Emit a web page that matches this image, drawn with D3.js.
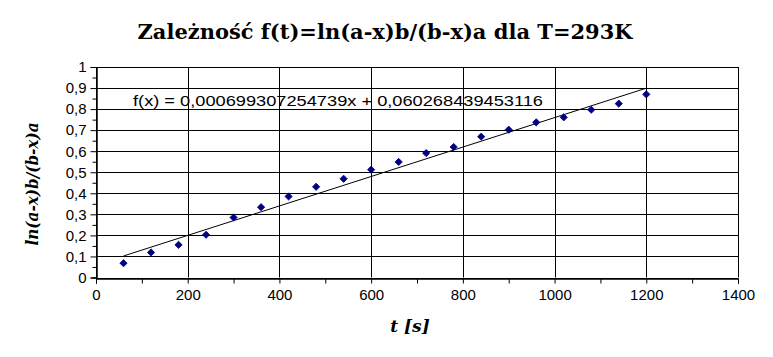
<!DOCTYPE html>
<html><head><meta charset="utf-8">
<script src="https://cdn.jsdelivr.net/npm/d3@7"></script>
<style>body{margin:0;background:#fff}svg{display:block}</style>
</head><body>
<svg id="c" width="773" height="357"></svg>
<script>
const times = [60,120,180,240,300,360,420,480,540,600,660,720,780,840,900,960,1020,1080,1140,1200];
const values = [0.068,0.119,0.155,0.203,0.285,0.334,0.385,0.431,0.469,0.512,0.549,0.591,0.620,0.669,0.702,0.737,0.761,0.797,0.826,0.870];
const trendSlope = 0.000699307254739;
const trendIntercept = 0.060268439453116;
const trendRange = [60,1200];
const xTicks = [0,200,400,600,800,1000,1200,1400];
const yTicks = [0,0.1,0.2,0.3,0.4,0.5,0.6,0.7,0.8,0.9,1];
const titleText = "Zależność f(t)=ln(a-x)b/(b-x)a dla T=293K";
const xLabel = "t [s]";
const yLabel = "ln(a-x)b/(b-x)a";
const eqText = "f(x) = 0,000699307254739x + 0,060268439453116";

const serif = "DejaVu Serif";
const sans = "Liberation Sans";
const svg = d3.select("#c");
const L=96,R=738,T=67,B=277.5;
const x = d3.scaleLinear().domain([0,1400]).range([L,R]);
const y = d3.scaleLinear().domain([0,1]).range([B,T]);
const fmt = d => String(d).replace(".",",");

// grid
const g = svg.append("g");
g.selectAll("line.h").data(yTicks).join("line")
  .attr("x1",L).attr("x2",R).attr("y1",d=>Math.round(y(d))+0.5).attr("y2",d=>Math.round(y(d))+0.5)
  .attr("stroke","#000").attr("stroke-width",1);
g.selectAll("line.v").data(xTicks).join("line")
  .attr("y1",T).attr("y2",B).attr("x1",d=>Math.round(x(d))+0.5).attr("x2",d=>Math.round(x(d))+0.5)
  .attr("stroke","#000").attr("stroke-width",1);

// axes
svg.append("g").attr("transform",`translate(${L+0.5},0)`)
  .call(d3.axisLeft(y).tickValues(yTicks).tickFormat(fmt).tickSize(6).tickPadding(4));
svg.append("g").attr("transform",`translate(${L+0.5},0)`)
  .call(d3.axisLeft(y).tickValues(d3.range(0.05,1,0.1)).tickFormat("").tickSize(4));
svg.append("g").attr("transform",`translate(0,${Math.round(B)+0.5})`)
  .call(d3.axisBottom(x).tickValues(xTicks).tickFormat(d=>d).tickSize(5).tickPadding(6));
svg.append("g").attr("transform",`translate(0,${Math.round(B)+0.5})`)
  .call(d3.axisBottom(x).tickValues(d3.range(100,1400,200)).tickFormat("").tickSize(5));
svg.selectAll(".domain").attr("stroke","#000");
svg.selectAll(".tick line").attr("stroke","#000");
svg.selectAll(".tick text").attr("font-family",sans).attr("font-size",15).attr("fill","#000");

// trend line
svg.append("line")
  .attr("x1",x(trendRange[0])).attr("y1",y(trendSlope*trendRange[0]+trendIntercept))
  .attr("x2",x(trendRange[1])).attr("y2",y(trendSlope*trendRange[1]+trendIntercept))
  .attr("stroke","#000").attr("stroke-width",1);

// points
svg.selectAll("path.pt").data(times.map((t,i)=>[t,values[i]])).join("path")
  .attr("class","pt")
  .attr("transform",d=>`translate(${x(d[0])},${y(d[1])}) rotate(45)`)
  .attr("d",d3.symbol().type(d3.symbolSquare).size(26))
  .attr("fill","#000080").attr("stroke","#000080").attr("stroke-width",0.8);

// equation
svg.append("text").attr("x",133).attr("y",106).text(eqText)
  .attr("font-family",sans).attr("font-size",15)
  .attr("textLength",410).attr("lengthAdjust","spacingAndGlyphs");

// title
svg.append("text").attr("x",385).attr("y",39).attr("text-anchor","middle").text(titleText)
  .attr("font-family",serif).attr("font-weight","bold").attr("font-size",20)
  .attr("textLength",495).attr("lengthAdjust","spacingAndGlyphs");

// axis labels
svg.append("text").attr("x",410).attr("y",332).attr("text-anchor","middle").text(xLabel)
  .attr("font-family",serif).attr("font-weight","bold").attr("font-style","italic").attr("font-size",17);
svg.append("text").attr("transform","translate(38,184) rotate(-90)").attr("text-anchor","middle").text(yLabel)
  .attr("font-family",serif).attr("font-weight","bold").attr("font-style","italic").attr("font-size",17)
  .attr("textLength",123).attr("lengthAdjust","spacingAndGlyphs");
</script>
</body></html>
